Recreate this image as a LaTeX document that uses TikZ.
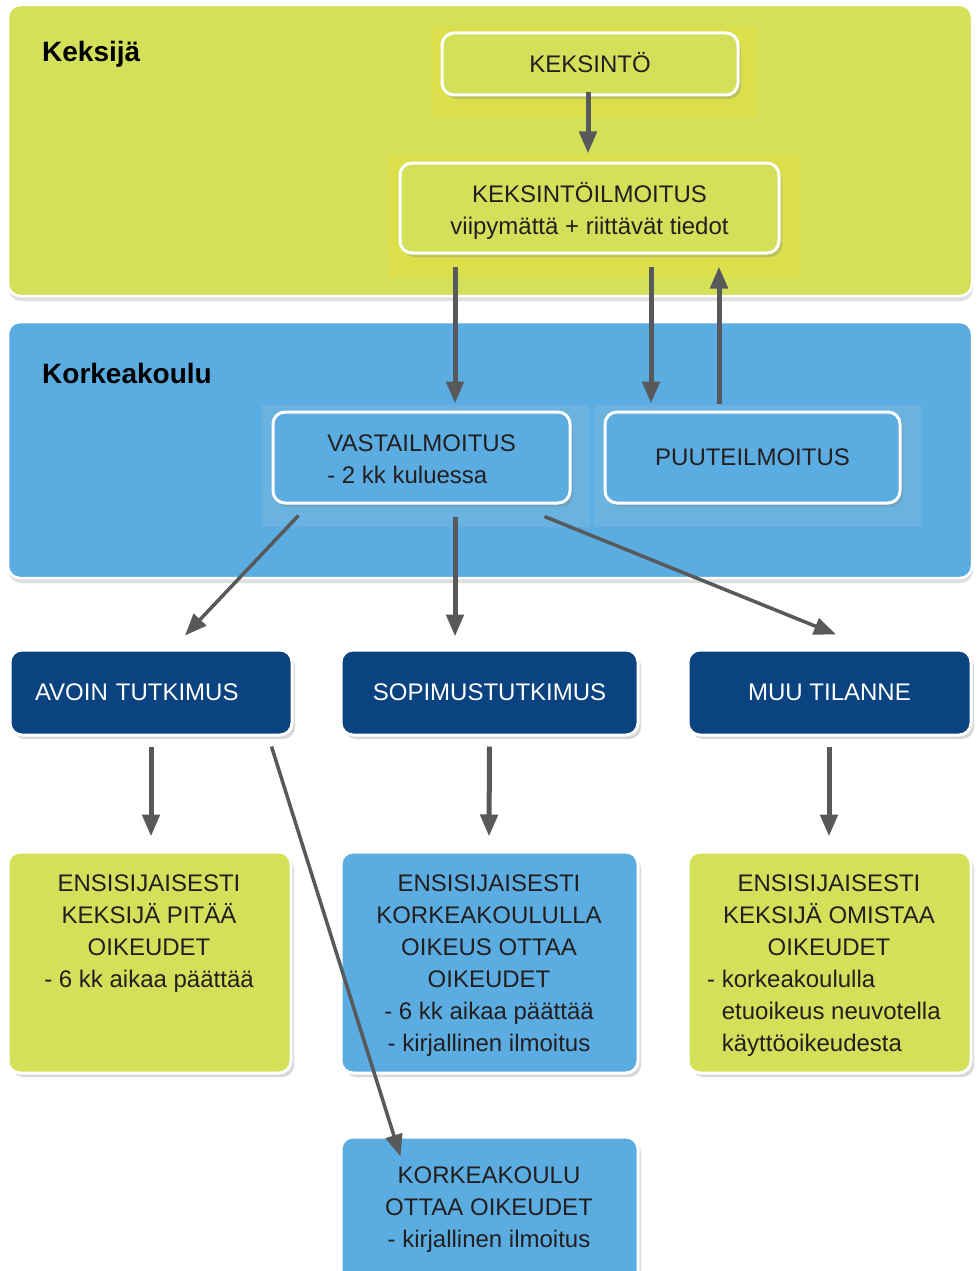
\documentclass[tikz,border=0pt]{standalone}
\usepackage{fontspec}
\setmainfont{Liberation Sans}
\usetikzlibrary{arrows.meta,shadows,calc}
\definecolor{kgreen}{HTML}{D4E05A}
\definecolor{halogreen}{HTML}{DADF4A}
\definecolor{kblue}{HTML}{5BACE0}
\definecolor{haloblue}{HTML}{6AB2E0}
\definecolor{dblue}{HTML}{0B4380}
\definecolor{arrgray}{HTML}{58595B}
\definecolor{txt}{HTML}{231F20}
\newcommand{\bodyfont}{\fontsize{24}{32}\selectfont}
\newcommand{\oneline}[1]{\vphantom{X}\smash{#1}}
\newcommand{\topstr}{\rule{0pt}{30.4pt}}
\begin{document}
\begin{tikzpicture}[x=1pt,y=-1pt,
  panel/.style={rectangle, rounded corners=12pt, draw=white, line width=2.5pt, inner sep=0pt,
    drop shadow={shadow xshift=1pt, shadow yshift=-5pt, opacity=0.25}},
  title/.style={font=\fontsize{28}{32}\selectfont\bfseries, text=black, inner sep=0pt},
  box/.style={rectangle, rounded corners=12pt, draw=white, line width=3pt, inner sep=0pt,
    align=center, text=txt, font=\bodyfont,
    drop shadow={shadow xshift=3pt, shadow yshift=-4pt, opacity=0.3}},
  dbox/.style={box, fill=dblue, text=white},
  txtblk/.style={align=center, inner sep=0pt, text=txt, font=\bodyfont},
  arr/.style={draw=arrgray, line width=5pt, -{Triangle[length=22pt,width=17pt]}},
  darr/.style={arr, line width=3.5pt}]
\useasboundingbox (0,0) rectangle (978,1271);
\clip (0,0) rectangle (978,1271);
\fill[white] (0,0) rectangle (978,1271);

% panels
\node[panel, fill=kgreen, minimum width=964pt, minimum height=291pt] (keksija) at (490,150.5) {};
\node[title, anchor=base west] (tkeksija) at (42,62) {Keksijä};
\node[panel, fill=kblue, minimum width=964pt, minimum height=256pt] (korkea) at (490,450) {};
\node[title, anchor=base west] (tkorkea) at (42,383) {Korkeakoulu};

% halos
\fill[halogreen] (432,27) rectangle (757,117);
\fill[halogreen] (388,155) rectangle (800,278);
\fill[haloblue] (262,405) rectangle (590,527);
\fill[haloblue] (594,405) rectangle (921,527);

% top boxes
\node[box, fill=kgreen, minimum width=296pt, minimum height=62pt] (kek) at (590,64) {\oneline{KEKSINTÖ}};
\node[box, fill=kgreen, minimum width=379pt, minimum height=90pt] (ilm) at (589.5,208)
  {\topstr KEKSINTÖILMOITUS\\viipymättä + riittävät tiedot\strut};
\node[box, fill=kblue, minimum width=297pt, minimum height=91pt, align=left] (vast) at (421.5,457.5)
  {\topstr VASTAILMOITUS\\- 2 kk kuluessa\strut};
\node[box, fill=kblue, minimum width=295pt, minimum height=91pt] (puute) at (752.5,457.5) {\oneline{PUUTEILMOITUS}};

% dark blue boxes
\node[dbox, minimum width=282pt, minimum height=85pt, text width=232pt, inner xsep=25pt, align=left] (avoin) at (151,692.5) {\oneline{AVOIN TUTKIMUS}};
\node[dbox, minimum width=297pt, minimum height=85pt] (sop) at (489.5,692.5) {\oneline{SOPIMUSTUTKIMUS}};
\node[dbox, minimum width=283pt, minimum height=85pt] (muu) at (829.5,692.5) {\oneline{MUU TILANNE}};

% lower boxes
\node[box, fill=kgreen, minimum width=283pt, minimum height=221pt] (g1) at (149.5,962.5) {};
\node[box, fill=kblue, minimum width=297pt, minimum height=221pt] (b1) at (489.5,962.5) {};
\node[box, fill=kgreen, minimum width=283pt, minimum height=221pt] (g2) at (829.5,962.5) {};
\node[box, fill=kblue, minimum width=297pt, minimum height=150pt] (b2) at (489.5,1212) {};

\node[txtblk] (g1t) at (149,933.2) {\strut ENSISIJAISESTI\\KEKSIJÄ PITÄÄ\\OIKEUDET\\- 6 kk aikaa päättää\strut};
\node[txtblk] (b1t) at (489,965.2) {\strut ENSISIJAISESTI\\KORKEAKOULULLA\\OIKEUS OTTAA\\OIKEUDET\\- 6 kk aikaa päättää\\- kirjallinen ilmoitus\strut};
\node[txtblk] (g2t) at (829,917.2) {\strut ENSISIJAISESTI\\KEKSIJÄ OMISTAA\\OIKEUDET\strut};
\node[txtblk, align=left, anchor=west] (g2l) at (707,1013.2) {\strut - korkeakoululla\\\phantom{- }etuoikeus neuvotella\\\phantom{- }käyttöoikeudesta\strut};
\node[txtblk] (b2t) at (489,1209.2) {\strut KORKEAKOULU\\OTTAA OIKEUDET\\- kirjallinen ilmoitus\strut};

% arrows
\draw[arr] ([xshift=-2pt,yshift=4pt]kek.south) -- ([xshift=-1.5pt,yshift=8pt]ilm.north);
\draw[arr] ([xshift=-134.5pt,yshift=-12pt]ilm.south) -- ([xshift=33.5pt,yshift=7pt]vast.north);
\draw[arr] ([xshift=61.5pt,yshift=-12pt]ilm.south) -- ([xshift=-101.5pt,yshift=7pt]puute.north);
\draw[arr] ([xshift=-33.5pt,yshift=7pt]puute.north) -- ([xshift=129.5pt,yshift=-12pt]ilm.south);

\draw[darr] ([xshift=27pt,yshift=-11pt]vast.south west) -- ([xshift=34pt,yshift=13pt]avoin.north);
\draw[arr] ([xshift=33.5pt,yshift=-12pt]vast.south) -- ([xshift=-34.5pt,yshift=12pt]sop.north);
\draw[darr] ([xshift=-27pt,yshift=-12pt]vast.south east) -- ([xshift=6.5pt,yshift=14pt]muu.north);

\draw[arr] ([yshift=-10pt]avoin.south) -- ([xshift=1.5pt,yshift=14pt]g1.north);
\draw[arr] ([yshift=-10pt]sop.south) -- ([xshift=-0.5pt,yshift=14pt]b1.north);
\draw[arr] ([xshift=-0.5pt,yshift=-10pt]muu.south) -- ([xshift=-0.5pt,yshift=14pt]g2.north);

\draw[darr] ([xshift=-22pt,yshift=-10pt]avoin.south east) -- ([xshift=61pt,yshift=-21pt]b2.north west);
\end{tikzpicture}
\end{document}
